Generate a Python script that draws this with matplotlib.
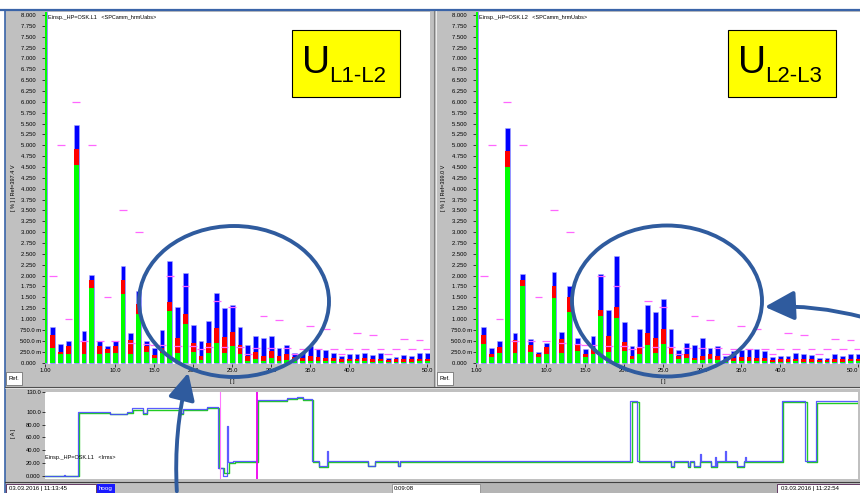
import numpy as np
import matplotlib
matplotlib.use('Agg')
import matplotlib.pyplot as plt
from matplotlib.patches import Rectangle, Ellipse, FancyArrowPatch

plt.rcParams['font.family'] = ['Liberation Sans', 'DejaVu Sans']

# ---------------- data ----------------
harmonics = list(range(1, 51))

# panel U L1-L2 : top of blue, red, green segments (% of fundamental)
l12_blue = [100, 0.81, 0.43, 0.49, 5.46, 0.72, 2.01, 0.50, 0.38, 0.50,
            2.23, 0.68, 1.65, 0.50, 0.33, 0.74, 2.33, 1.27, 2.07, 0.87,
            0.49, 0.95, 1.61, 1.25, 1.32, 0.81, 0.40, 0.62, 0.57, 0.60,
            0.33, 0.40, 0.21, 0.22, 0.38, 0.30, 0.29, 0.23, 0.16, 0.20,
            0.20, 0.23, 0.17, 0.21, 0.10, 0.12, 0.17, 0.15, 0.21, 0.21]
l12_red = [100, 0.63, 0.25, 0.38, 4.91, 0.50, 1.90, 0.39, 0.30, 0.38,
           1.91, 0.52, 1.35, 0.39, 0.17, 0.34, 1.39, 0.57, 1.12, 0.44,
           0.16, 0.44, 0.79, 0.58, 0.70, 0.40, 0.14, 0.25, 0.14, 0.27,
           0.14, 0.20, 0.13, 0.10, 0.14, 0.13, 0.10, 0.11, 0.08, 0.09,
           0.09, 0.10, 0.08, 0.09, 0.06, 0.07, 0.08, 0.07, 0.09, 0.09]
l12_green = [100, 0.34, 0.20, 0.20, 4.55, 0.20, 1.72, 0.20, 0.23, 0.22,
             1.58, 0.19, 1.12, 0.24, 0.11, 0.23, 1.18, 0.23, 0.89, 0.24,
             0.05, 0.21, 0.45, 0.22, 0.37, 0.20, 0.04, 0.07, 0.03, 0.11,
             0.03, 0.06, 0.03, 0.03, 0.03, 0.03, 0.03, 0.03, 0.02, 0.03,
             0.03, 0.03, 0.02, 0.03, 0.02, 0.02, 0.02, 0.02, 0.03, 0.03]

# panel U L2-L3
l23_blue = [100, 0.81, 0.33, 0.49, 5.41, 0.69, 2.04, 0.53, 0.25, 0.45,
            2.09, 0.70, 1.77, 0.56, 0.31, 0.62, 2.03, 1.22, 2.46, 0.94,
            0.38, 0.77, 1.32, 1.17, 1.47, 0.77, 0.29, 0.46, 0.41, 0.56,
            0.34, 0.37, 0.15, 0.27, 0.29, 0.31, 0.32, 0.27, 0.12, 0.16,
            0.16, 0.23, 0.19, 0.18, 0.10, 0.11, 0.19, 0.15, 0.20, 0.20]
l23_red = [100, 0.63, 0.20, 0.36, 4.86, 0.52, 1.91, 0.40, 0.20, 0.35,
           1.76, 0.53, 1.50, 0.43, 0.20, 0.33, 1.22, 0.61, 1.28, 0.48,
           0.16, 0.35, 0.67, 0.56, 0.76, 0.36, 0.14, 0.20, 0.10, 0.15,
           0.20, 0.14, 0.06, 0.10, 0.12, 0.12, 0.10, 0.10, 0.06, 0.08,
           0.08, 0.09, 0.08, 0.08, 0.05, 0.05, 0.08, 0.07, 0.09, 0.09]
l23_green = [100, 0.42, 0.13, 0.21, 4.51, 0.23, 1.76, 0.24, 0.12, 0.20,
             1.49, 0.21, 1.17, 0.27, 0.12, 0.20, 1.07, 0.25, 1.03, 0.27,
             0.09, 0.20, 0.40, 0.23, 0.43, 0.20, 0.09, 0.10, 0.05, 0.06,
             0.07, 0.05, 0.02, 0.03, 0.03, 0.03, 0.03, 0.03, 0.02, 0.02,
             0.02, 0.03, 0.02, 0.02, 0.02, 0.02, 0.02, 0.02, 0.03, 0.03]

# compatibility limits (pink marks)
limits = [np.nan, 2.0, 5.0, 1.0, 6.0, 0.5, 5.0, 0.5, 1.5, 0.5,
          3.5, 0.46, 3.0, 0.43, 0.4, 0.41, 2.0, 0.39, 1.76, 0.38,
          0.3, 0.36, 1.41, 0.35, 1.27, 0.35, 0.2, 0.34, 1.06, 0.33,
          0.98, 0.33, 0.2, 0.32, 0.83, 0.32, 0.77, 0.32, 0.2, 0.31,
          0.67, 0.31, 0.63, 0.31, 0.2, 0.30, 0.55, 0.30, 0.52, 0.30]

x_ticks = [1, 10, 15, 20, 25, 30, 35, 40, 50]
x_ticklabels = ['1.00', '10.0', '15.0', '20.0', '25.0', '30.0', '35.0', '40.0', '50.0']

# Irms trend (seconds from 11:13:45, amps)
t_blue = [0, 12.5, 13.5, 22.3, 43.9, 55.4, 58.8, 66.2, 68.9, 91.2,
          93.2, 109.4, 116.8, 120.2, 122.9, 123.8, 127.0, 143.2, 163.4, 170.2,
          174.2, 180.3, 185.0, 190.4, 191.1, 218.1, 222.8, 238.4, 239.7, 395.0,
          399.8, 422.7, 424.8, 434.2, 435.6, 438.3, 442.3, 442.9, 449.8, 452.5,
          453.0, 453.8, 459.2, 459.8, 467.3, 472.0, 472.7, 473.3, 497.7, 513.2,
          520.7, 549]
v_blue = [0, 2, 0, 100, 97, 100, 105, 98, 105, 98,
          104, 107, 13, 0, 77, 21, 23, 118, 122, 123,
          120, 23, 15, 39, 23, 16, 23, 16, 23, 116,
          23, 16, 23, 16, 23, 16, 34, 23, 16, 30,
          16, 23, 39, 23, 16, 23, 30, 23, 117, 23,
          116, 117]
t_green = [0, 22.8, 43.9, 55.4, 59.5, 66.2, 68.9, 91.2, 93.2, 109.4,
           117.5, 121.0, 124.0, 128.0, 143.8, 163.4, 170.2, 174.2, 181.0, 185.0,
           191.0, 218.1, 222.8, 238.4, 239.7, 396.5, 401.0, 422.7, 424.8, 434.2,
           435.6, 438.3, 442.3, 449.8, 453.8, 467.3, 472.0, 498.5, 514.5, 521.5,
           549]
v_green = [0, 98, 96, 98, 103, 97, 103, 97, 102, 105,
           13, 5, 20, 22, 116, 120, 121, 118, 22, 14,
           22, 15, 22, 15, 22, 115, 22, 14, 22, 14,
           22, 14, 22, 14, 22, 14, 22, 115, 22, 114,
           115]
cursor_times = [118.2, 143.2]
trend_yticks = [0, 20, 40, 60, 80, 100, 130]
trend_ylabels = ['0.000', '20.00', '40.00', '60.00', '80.00', '100.0', '130.0']

# ---------------- layout helpers ----------------
W, H = 860, 493
fig = plt.figure(figsize=(8.6, 4.93), dpi=100)
fig.patch.set_facecolor('white')


def add_ax(x0, y0, x1, y1, z=1):
    return fig.add_axes([x0 / W, 1 - y1 / H, (x1 - x0) / W, (y1 - y0) / H], zorder=z)


def rect(ax, x0, y0, x1, y1, fc, ec='none', lw=0, z=1):
    ax.add_patch(Rectangle((x0, y0), x1 - x0, y1 - y0, facecolor=fc,
                           edgecolor=ec, linewidth=lw, zorder=z))


GRAY = '#c0c0c0'
BLUE_FRAME = '#3a64a8'

bg = add_ax(0, 0, W, H, z=0)
bg.set_xlim(0, W); bg.set_ylim(H, 0); bg.axis('off')
rect(bg, 5, 11, W, H, GRAY)
bg.plot([0, W], [10, 10], color=BLUE_FRAME, lw=1.6)
bg.plot([4.5, 4.5], [10, H], color=BLUE_FRAME, lw=1.2)
bg.plot([433.5, 433.5], [11, 386], color='#808080', lw=0.8)
bg.plot([435.5, 435.5], [11, 386], color='#f4f4f4', lw=0.6)
bg.plot([5, W], [386.5, 386.5], color='#505050', lw=0.8)
bg.plot([5, W], [388, 388], color='#f0f0f0', lw=0.5)
bg.plot([5, W], [481.5, 481.5], color='#404040', lw=0.8)
rect(bg, 480, 483, 777, H, '#b4b4b4')

FS = 4.2


def harmonic_panel(x0, x1, blue, red, green, ylab_x, ref_text, last_right=False):
    ax = add_ax(x0, 12, x1, 364, z=2)
    ax.set_facecolor('white')
    xr = 1.0 + (x1 - x0) / 7.8
    bw = 0.6
    ax.bar(harmonics, blue, width=bw, color='#0000ff', edgecolor='#a8a8ff', linewidth=0.4, zorder=2)
    ax.bar(harmonics, red, width=bw, color='#ff0000', linewidth=0, zorder=2.1)
    ax.bar(harmonics, green, width=bw, color='#00ff00', linewidth=0, zorder=2.2)
    h = np.array(harmonics)
    ax.hlines(limits, h - 0.5, h + 0.5, colors='#ff66ff', lw=0.9, zorder=4)
    ax.set_xlim(1.0, xr)
    ax.set_ylim(-0.0345, 8.069)
    yt = np.arange(0, 8.001, 0.25)
    labs = []
    for v in yt:
        if v == 0:
            labs.append('0.000   ')
        elif v < 1:
            labs.append(f'{v*1000:.1f} m')
        else:
            labs.append(f'{v:.3f}   ')
    ax.set_yticks(yt)
    ax.set_yticklabels(labs)
    ax.set_xticks(x_ticks)
    ax.set_xticklabels(x_ticklabels)
    ax.tick_params(axis='both', labelsize=FS, length=2, width=0.5, pad=1)
    if last_right:
        ax.get_xticklabels()[-1].set_horizontalalignment('right')
    for s in ax.spines.values():
        s.set_visible(False)
    fig.text(ylab_x / W, 1 - 188 / H, ref_text, rotation=90, fontsize=4.0,
             ha='center', va='center')
    return ax


axL = harmonic_panel(45, 430, l12_blue, l12_red, l12_green, 14,
                     '[ % ] | Ref=397.4 V')
axR = harmonic_panel(476, 860, l23_blue, l23_red, l23_green, 444,
                     '[ % ] | Ref=399.0 V', last_right=True)

# trend panel
axT = add_ax(45, 392, 858, 479, z=2)
axT.set_facecolor('white')
axT.step(t_green, v_green, where='post', color='#22cc22', lw=1.0, zorder=2)
axT.step(t_blue, v_blue, where='post', color='#4a4aff', lw=0.9, alpha=0.9, zorder=3)
axT.axvline(cursor_times[0], color='#ff77ff', lw=0.8, zorder=4)
axT.axvline(cursor_times[1], color='#ee00ee', lw=1.3, zorder=4)
axT.set_xlim(0, 549)
axT.set_ylim(-4.7, 130.6)
axT.set_yticks(trend_yticks)
axT.set_yticklabels(trend_ylabels)
axT.set_xticks([])
axT.tick_params(axis='y', labelsize=FS, length=2, width=0.5, pad=1)
for s in axT.spines.values():
    s.set_visible(False)

# ---------------- overlay ----------------
ov = add_ax(0, 0, W, H, z=10)
ov.set_xlim(0, W); ov.set_ylim(H, 0); ov.axis('off')
ov.patch.set_alpha(0)

ov.text(48, 17.5, 'Einsp._HP=OSK.L1   <SPCamm_hrmUabs>', fontsize=4.0, va='center', ha='left')
ov.text(479, 17.5, 'Einsp._HP=OSK.L2   <SPCamm_hrmUabs>', fontsize=4.0, va='center', ha='left')
ov.text(45, 458, 'Einsp._HP=OSK.L1   <Irms>', fontsize=4.0, va='center', ha='left')
ov.text(232, 381, '[ ]', fontsize=4.0, va='center', ha='center')
ov.text(663, 381, '[ ]', fontsize=4.0, va='center', ha='center')
fig.text(13 / W, 1 - 433 / H, '[ A ]', rotation=90, fontsize=4.0, ha='center', va='center')

for xb in (6, 437):
    rect(ov, xb, 372, xb + 16, 385, 'white', ec='#606060', lw=0.5)
    ov.text(xb + 8, 378.5, 'Ref.', fontsize=4.2, ha='center', va='center')

# status bar
rect(ov, 6, 483.5, 96, 493, 'white', ec='#502050', lw=0.6)
ov.text(9, 488.5, '03.03.2016 | 11:13:45', fontsize=4.3, va='center', ha='left')
rect(ov, 97, 483.5, 115, 493, '#1a1aff')
ov.text(106, 488.5, 'hoog', fontsize=4.5, va='center', ha='center', color='white')
rect(ov, 392, 483.5, 480, 493, 'white', ec='#808080', lw=0.5)
ov.text(394, 488.5, '0:09:08', fontsize=4.3, va='center', ha='left')
rect(ov, 777, 483.5, 860, 493, 'white', ec='#502050', lw=0.6)
ov.text(781, 488.5, '03.03.2016 | 11:22:54', fontsize=4.3, va='center', ha='left')

# yellow labels
for (bx0, sub) in ((292, 'L1-L2'), (728, 'L2-L3')):
    rect(ov, bx0, 30, bx0 + 108, 97, '#ffff00', ec='black', lw=0.8)
    ov.text(bx0 + 10, 73, 'U', fontsize=28, ha='left', va='baseline')
    ov.text(bx0 + 37, 82, sub, fontsize=16, ha='left', va='baseline')

EC = '#2f5b9e'
ov.add_patch(Ellipse((234, 301.5), 190, 151, fill=False, ec=EC, lw=2.8))
ov.add_patch(Ellipse((667, 301), 190, 151, fill=False, ec=EC, lw=2.8))

ov.add_patch(FancyArrowPatch((177, 494), (189, 370), connectionstyle='arc3,rad=-0.08',
                             arrowstyle='-|>,head_length=0.9,head_width=0.45',
                             mutation_scale=18, color=EC, lw=2.8))
ov.add_patch(FancyArrowPatch((866, 318), (762, 307), connectionstyle='arc3,rad=0.08',
                             arrowstyle='-|>,head_length=0.9,head_width=0.45',
                             mutation_scale=20, color=EC, lw=2.8))

fig.savefig('out.png', dpi=100)
